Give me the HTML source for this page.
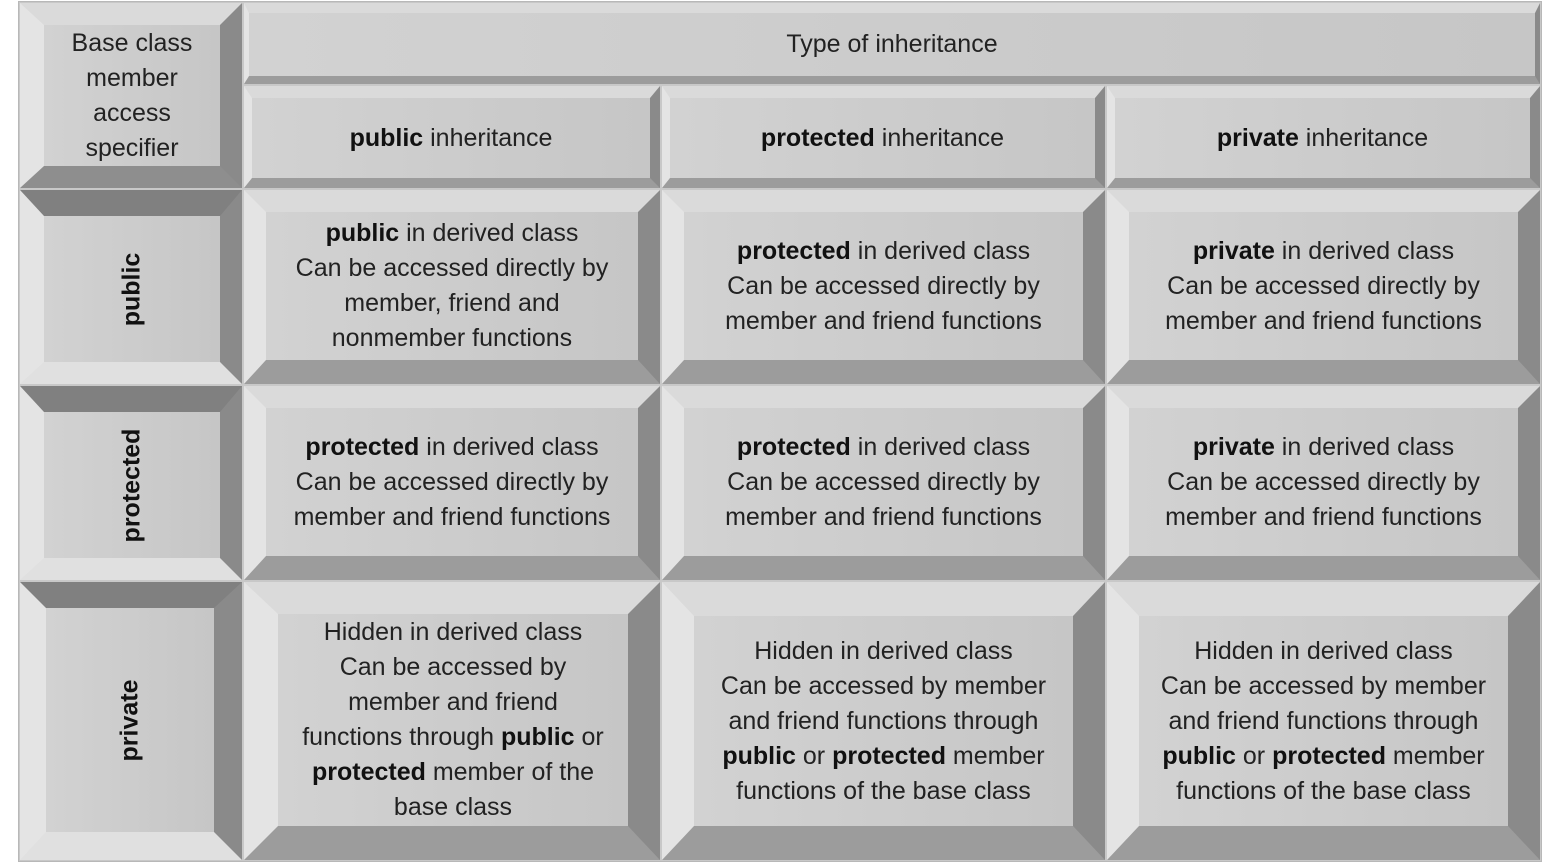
<!DOCTYPE html>
<html><head><meta charset="utf-8"><style>
html,body{margin:0;padding:0;background:#fff;width:1546px;height:864px;overflow:hidden}
.c{position:absolute;box-sizing:border-box;border-style:solid;border-top-color:#dadada;border-left-color:#e4e4e4;border-right-color:#8a8a8a;border-bottom-color:#9c9c9c;background:linear-gradient(90deg,#d2d2d2,#c6c6c6);display:flex;align-items:center;justify-content:center;text-align:center;font-family:"Liberation Sans",sans-serif;font-size:25px;line-height:35px;color:#222}
.h{border-top-color:#808080;border-bottom-color:#e0e0e0}
b{font-weight:bold;color:#111}
.v{transform:rotate(-90deg);white-space:nowrap;font-weight:bold;color:#111}
</style></head><body>
<div style="position:absolute;left:18px;top:1px;width:1524px;height:861px;border:1px solid #b8b8b8;box-sizing:border-box;background:#c8c8c8"></div>

<div class="c" style="left:20px;top:3px;width:222px;height:185px;border-width:22px 22px 22px 24px;border-bottom-color:#8e8e8e">Base class<br>member<br>access<br>specifier</div>
<div class="c" style="left:244px;top:3px;width:1296px;height:81px;border-width:10px 5px 8px 5px">Type of inheritance</div>

<div class="c" style="left:244px;top:86px;width:416px;height:102px;border-width:12px 10px 10px 8px"><span><b>public</b> inheritance</span></div>
<div class="c" style="left:662px;top:86px;width:443px;height:102px;border-width:12px 10px 10px 8px"><span><b>protected</b> inheritance</span></div>
<div class="c" style="left:1107px;top:86px;width:433px;height:102px;border-width:12px 10px 10px 8px"><span><b>private</b> inheritance</span></div>

<div class="c h" style="left:20px;top:190px;width:222px;height:194px;border-width:26px 22px 22px 24px"><span class="v">public</span></div>
<div class="c" style="left:244px;top:190px;width:416px;height:194px;border-width:22px 22px 24px 22px"><span><b>public</b> in derived class<br>Can be accessed directly by<br>member, friend and<br>nonmember functions</span></div>
<div class="c" style="left:662px;top:190px;width:443px;height:194px;border-width:22px 22px 24px 22px"><span><b>protected</b> in derived class<br>Can be accessed directly by<br>member and friend functions</span></div>
<div class="c" style="left:1107px;top:190px;width:433px;height:194px;border-width:22px 22px 24px 22px"><span><b>private</b> in derived class<br>Can be accessed directly by<br>member and friend functions</span></div>

<div class="c h" style="left:20px;top:386px;width:222px;height:194px;border-width:26px 22px 22px 24px"><span class="v">protected</span></div>
<div class="c" style="left:244px;top:386px;width:416px;height:194px;border-width:22px 22px 24px 22px"><span><b>protected</b> in derived class<br>Can be accessed directly by<br>member and friend functions</span></div>
<div class="c" style="left:662px;top:386px;width:443px;height:194px;border-width:22px 22px 24px 22px"><span><b>protected</b> in derived class<br>Can be accessed directly by<br>member and friend functions</span></div>
<div class="c" style="left:1107px;top:386px;width:433px;height:194px;border-width:22px 22px 24px 22px"><span><b>private</b> in derived class<br>Can be accessed directly by<br>member and friend functions</span></div>

<div class="c h" style="left:20px;top:582px;width:222px;height:278px;border-width:26px 28px 28px 26px"><span class="v">private</span></div>
<div class="c" style="left:244px;top:582px;width:416px;height:278px;border-width:32px 32px 34px 34px"><span>Hidden in derived class<br>Can be accessed by<br>member and friend<br>functions through <b>public</b> or<br><b>protected</b> member of the<br>base class</span></div>
<div class="c" style="left:662px;top:582px;width:443px;height:278px;border-width:34px 32px 34px 32px"><span>Hidden in derived class<br>Can be accessed by member<br>and friend functions through<br><b>public</b> or <b>protected</b> member<br>functions of the base class</span></div>
<div class="c" style="left:1107px;top:582px;width:433px;height:278px;border-width:34px 32px 34px 32px"><span>Hidden in derived class<br>Can be accessed by member<br>and friend functions through<br><b>public</b> or <b>protected</b> member<br>functions of the base class</span></div>
</body></html>
